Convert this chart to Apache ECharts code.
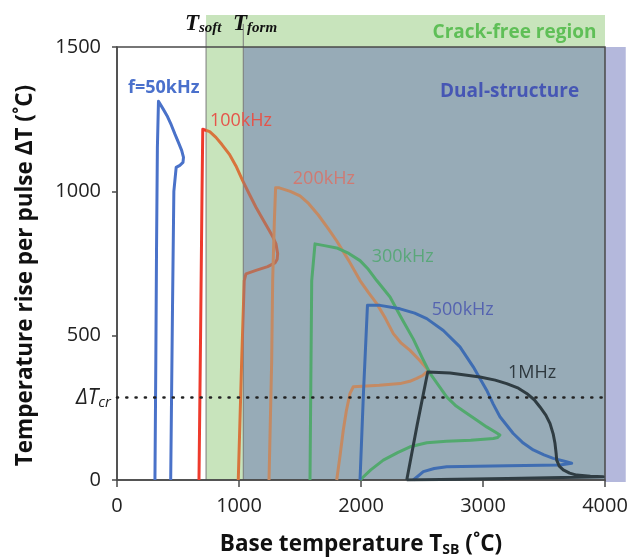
<!DOCTYPE html>
<html>
<head>
<meta charset="utf-8">
<script src="https://cdn.jsdelivr.net/npm/echarts@6/dist/echarts.min.js"></script>
<style>
  html, body { margin: 0; padding: 0; background: #ffffff; }
  #chart { width: 632px; height: 558px; }
</style>
</head>
<body>
<div id="chart"></div>
<script>
// Pulse temperature rise vs. base temperature for several pulse frequencies.
// Each loop is [base temperature (°C), temperature rise per pulse (°C)].
const loop50kHz = [
  [311, 0], [318, 400], [324, 800], [331, 1150], [340, 1312], [352, 1306],
  [380, 1284], [410, 1262], [445, 1230], [475, 1198], [505, 1168],
  [530, 1142], [545, 1118], [541, 1100], [515, 1090], [485, 1083],
  [470, 1077], [466, 1000], [455, 600], [440, 0]
];
const loop100kHz = [
  [672, 0], [685, 500], [697, 1000], [703, 1215], [716, 1221], [760, 1207],
  [811, 1187], [860, 1162], [920, 1129], [975, 1088], [1030, 1037],
  [1085, 990], [1139, 945], [1195, 903], [1248, 864], [1280, 840],
  [1303, 818], [1317, 784], [1313, 765], [1295, 752], [1235, 739],
  [1139, 726], [1057, 714], [1043, 691], [1022, 415], [994, 0]
];
const loop200kHz = [
  [1246, 0], [1268, 415], [1276, 691], [1290, 900], [1300, 1012],
  [1330, 1012], [1420, 1000], [1500, 984], [1570, 958], [1650, 918],
  [1730, 872], [1801, 828], [1900, 760], [1992, 691], [2060, 650],
  [2129, 611], [2200, 560], [2265, 507], [2330, 474], [2402, 449],
  [2480, 415], [2552, 380], [2505, 362], [2457, 352], [2400, 342],
  [2320, 334], [2150, 328], [1937, 323], [1910, 300], [1880, 240],
  [1855, 173], [1830, 90], [1801, 0]
];
const loop300kHz = [
  [1582, 0], [1590, 400], [1596, 691], [1623, 818], [1700, 812],
  [1801, 804], [1900, 785], [1992, 760], [2060, 730], [2129, 691],
  [2238, 634], [2330, 562], [2429, 488], [2500, 425], [2566, 369],
  [2640, 325], [2702, 288], [2780, 256], [2866, 231], [2950, 207],
  [3030, 184], [3100, 166], [3139, 156], [3120, 147], [3085, 144],
  [2900, 138], [2700, 134], [2539, 129], [2402, 115], [2300, 95],
  [2183, 69], [2080, 35], [1992, 0]
];
const loop500kHz = [
  [1992, 0], [2020, 300], [2053, 605], [2156, 605], [2320, 593],
  [2440, 578], [2539, 559], [2675, 518], [2811, 461], [2920, 392],
  [2975, 352], [3030, 311], [3085, 262], [3139, 219], [3248, 161],
  [3330, 128], [3412, 104], [3500, 87], [3576, 75], [3660, 66],
  [3727, 58], [3631, 52], [3200, 49], [2702, 46], [2600, 40],
  [2511, 29], [2429, 0]
];
const loop1MHz = [
  [2375, 0], [2460, 190], [2547, 374], [2730, 371], [2975, 357],
  [3100, 346], [3194, 334], [3290, 318], [3358, 300], [3420, 278],
  [3467, 253], [3515, 225], [3549, 196], [3575, 160], [3590, 127],
  [3600, 90], [3604, 69], [3625, 48], [3658, 35], [3710, 24],
  [3768, 17], [3880, 13], [3986, 11], [4000, 10], [3200, 5], [2375, 0]
];

const frequencyNames = ['f=50kHz', '100kHz', '200kHz', '300kHz', '500kHz', '1MHz'];
const loops = [loop50kHz, loop100kHz, loop200kHz, loop300kHz, loop500kHz, loop1MHz];

// Characteristic temperatures and the critical temperature rise.
const tSoft = 730;
const tForm = 1035;
const crackFreeTop = 1611;
const dualStructureRight = 4170;
const deltaTcr = 285;

// Axis ticks.
const xTicks = [0, 1000, 2000, 3000, 4000];
const yTicks = [0, 500, 1000, 1500];

const lineColors = ['#4a72c9', null, '#c48a63', '#52a96e', '#3f6db2', '#2f3c42'];
const labelColors = ['#4a70cc', '#e5544a', '#d07a72', '#5aa77a', '#5563b0', '#2e383e'];

const FONT = '"Open Sans", "Noto Sans", sans-serif';

const chart = echarts.init(document.getElementById('chart'), null, { renderer: 'canvas' });

const series = loops.map((pts, i) => {
  const lineStyle = { width: 3, join: 'round' };
  if (lineColors[i]) lineStyle.color = lineColors[i];
  return {
    name: frequencyNames[i],
    type: 'line',
    data: pts,
    symbol: 'none',
    showSymbol: false,
    silent: true,
    z: 3,
    lineStyle: lineStyle
  };
});

// Critical temperature rise, dotted across the plot.
series[0].markLine = {
  silent: true,
  symbol: 'none',
  animation: false,
  lineStyle: { color: '#222', width: 2.6, type: [1, 8.3], cap: 'round' },
  label: {
    show: true,
    position: 'start',
    distance: 6,
    formatter: '{a|ΔT}{b|cr}',
    rich: {
      a: { fontFamily: FONT, fontStyle: 'italic', fontSize: 21, color: '#222' },
      b: { fontFamily: FONT, fontStyle: 'italic', fontSize: 15, color: '#222', padding: [10, 0, 0, 0] }
    }
  },
  data: [{ yAxis: deltaTcr }]
};

chart.setOption({
  animation: false,
  backgroundColor: '#ffffff',
  grid: {
    left: 117, right: 27, top: 47, bottom: 78,
    outerBoundsMode: 'none',
    containLabel: false,
    show: true, z: 1,
    borderColor: '#4a4a4a', borderWidth: 1.5,
    backgroundColor: 'transparent'
  },
  // 100 kHz curve changes hue as it crosses the two temperature regions.
  visualMap: {
    type: 'piecewise',
    show: false,
    seriesIndex: 1,
    dimension: 0,
    pieces: [
      { min: -1000, max: tSoft, color: '#ee3a2c' },
      { min: tSoft, max: tForm, color: '#d8743c' },
      { min: tForm, max: 5000, color: '#b96f57' }
    ]
  },
  xAxis: {
    type: 'value',
    min: xTicks[0], max: xTicks[xTicks.length - 1], interval: 1000,
    z: 1,
    axisLine: { lineStyle: { color: '#4a4a4a', width: 1.5 } },
    axisTick: { show: true, length: 7, lineStyle: { color: '#4a4a4a', width: 1.5 } },
    splitLine: { show: false },
    axisLabel: { fontFamily: FONT, fontSize: 20, color: '#222', margin: 16, formatter: (v) => String(v) },
    name: 'Base temperature T{sub|SB} (˚C)',
    nameLocation: 'middle',
    nameGap: 53,
    nameTextStyle: {
      fontFamily: FONT, fontWeight: 'bold', fontSize: 22.5, color: '#111',
      rich: { sub: { fontFamily: FONT, fontWeight: 'bold', fontSize: 14, color: '#111', padding: [10, 0, 0, 0] } }
    }
  },
  yAxis: {
    type: 'value',
    min: yTicks[0], max: yTicks[yTicks.length - 1], interval: 500,
    z: 1,
    axisLine: { show: true, lineStyle: { color: '#4a4a4a', width: 1.5 } },
    axisTick: { show: true, length: 5, lineStyle: { color: '#4a4a4a', width: 1.5 } },
    splitLine: { show: false },
    axisLabel: { fontFamily: FONT, fontSize: 20, color: '#222', margin: 16, formatter: (v) => String(v) },
    name: 'Temperature rise per pulse ΔT (˚C)',
    nameLocation: 'middle',
    nameGap: 80,
    nameTextStyle: { fontFamily: FONT, fontWeight: 'bold', fontSize: 22.5, color: '#111', padding: [0, 24, 0, 0] }
  },
  series: series
});

// Region shading and annotations, placed through the grid's own scales.
function px(x, y) { return chart.convertToPixel({ gridIndex: 0 }, [x, y]); }

function regionRect(x0, y0, x1, y1, fill) {
  const a = px(x0, y1);
  const b = px(x1, y0);
  return {
    type: 'rect', z: 0, silent: true,
    shape: { x: a[0], y: a[1], width: b[0] - a[0], height: b[1] - a[1] },
    style: { fill: fill }
  };
}

function marker(x, yTop) {
  const a = px(x, yTop);
  const b = px(x, 0);
  return {
    type: 'line', z: 0.5, silent: true,
    shape: { x1: a[0], y1: a[1], x2: b[0], y2: b[1] },
    style: { stroke: '#7a7a7a', lineWidth: 1 }
  };
}

function label(text, x, y, fill, font, align) {
  const p = px(x, y);
  return {
    type: 'text', z: 10, silent: true, x: p[0], y: p[1],
    style: { text: text, fill: fill, font: font, align: align || 'left', verticalAlign: 'middle' }
  };
}

function tempLabel(sub, x, y) {
  const p = px(x, y);
  return {
    type: 'text', z: 10, silent: true, x: p[0], y: p[1],
    style: {
      text: '{t|T}{s|' + sub + '}',
      align: 'left', verticalAlign: 'bottom',
      rich: {
        t: { font: 'italic bold 23px "Liberation Serif", serif', fill: '#111' },
        s: { font: 'italic bold 15px "Liberation Serif", serif', fill: '#111', padding: [8, 0, 0, 0] }
      }
    }
  };
}

const graphics = [
  regionRect(tSoft, 0, xTicks[xTicks.length - 1], crackFreeTop, '#c8e4bc'),
  regionRect(tForm, 0, xTicks[xTicks.length - 1], yTicks[yTicks.length - 1], '#97abb7'),
  regionRect(xTicks[xTicks.length - 1], -7, dualStructureRight, yTicks[yTicks.length - 1], '#b4b8dc'),
  marker(tSoft, 1555),
  marker(tForm, 1580),
  label('Crack-free region', 3930, 1549, '#5fbf57', 'bold 19px ' + FONT, 'right'),
  label('Dual-structure', 2648, 1346, '#4656b4', 'bold 19px ' + FONT),
  label(frequencyNames[0], 90, 1358, labelColors[0], 'bold 18px ' + FONT),
  label(frequencyNames[1], 762, 1244, labelColors[1], '18px ' + FONT),
  label(frequencyNames[2], 1441, 1044, labelColors[2], '18px ' + FONT),
  label(frequencyNames[3], 2088, 772, labelColors[3], '18px ' + FONT),
  label(frequencyNames[4], 2580, 588, labelColors[4], '18px ' + FONT),
  label(frequencyNames[5], 3205, 370, labelColors[5], '18px ' + FONT),
  tempLabel('soft', 557, 1538),
  tempLabel('form', 951, 1538)
];

chart.setOption({ graphic: { elements: graphics } });
</script>
</body>
</html>
